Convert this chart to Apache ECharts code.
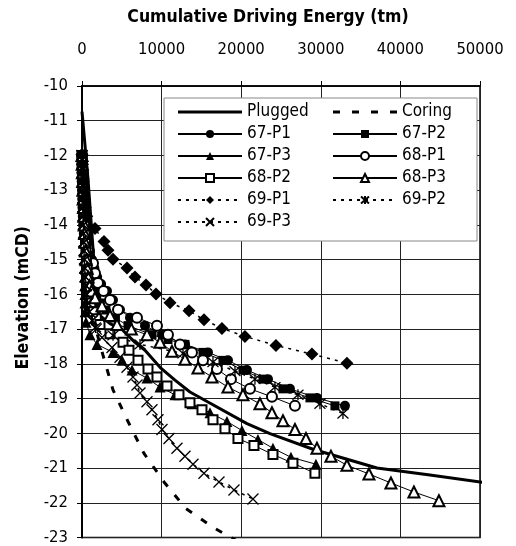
<!DOCTYPE html>
<html>
<head>
<meta charset="UTF-8" />
<title>Cumulative Driving Energy</title>
<script src="https://cdn.jsdelivr.net/npm/echarts@6/dist/echarts.min.js"></script>
<style>
  html, body { margin: 0; padding: 0; background: #fff; }
  #main { width: 516px; height: 546px; }
</style>
</head>
<body>
<div id="main"></div>
<script>
// axis ticks
var xTicks = [0, 10000, 20000, 30000, 40000, 50000];
var yTicks = [-23, -10];

// [cumulative energy (tm), elevation (mCD)]
var plugged = [[0,-10.74],[754,-12.68],[1382,-14.68],[1884,-16.24],[2261,-16.61],[3517,-16.84],[5024,-17.01],[6657,-17.38],[7913,-17.61],[9797,-18.1],[11681,-18.47],[13565,-18.81],[15826,-19.1],[20724,-19.72],[23613,-20.01],[29014,-20.46],[37052,-21.0],[43709,-21.2],[50994,-21.43]];
var coring = [[0,-12.0],[300,-14.0],[700,-15.5],[1500,-16.8],[2638,-17.75],[3894,-18.75],[5778,-19.66],[7787,-20.58],[10299,-21.4],[13062,-22.17],[16705,-22.74],[19342,-23.08]];
var p67_1 = [[0,-12],[50,-12.25],[100,-12.5],[150,-12.75],[200,-13],[250,-13.25],[300,-13.5],[400,-13.75],[500,-14],[650,-14.25],[800,-14.5],[1000,-14.75],[1250,-15],[1550,-15.25],[1900,-15.5],[2400,-15.7],[3140,-15.9],[3894,-16.16],[4773,-16.44],[6029,-16.67],[7913,-16.9],[10048,-17.16],[12937,-17.44],[15826,-17.67],[18338,-17.9],[20724,-18.18],[23362,-18.44],[26125,-18.72],[29516,-18.98],[33033,-19.21]];
var p67_2 = [[0,-12],[50,-12.25],[100,-12.5],[150,-12.75],[200,-13],[250,-13.25],[300,-13.5],[350,-13.75],[450,-14],[550,-14.25],[650,-14.5],[800,-14.75],[950,-15],[1100,-15.25],[1300,-15.5],[1550,-15.75],[1850,-16],[2300,-16.25],[3000,-16.45],[4200,-16.68],[5778,-16.9],[8792,-17.16],[10800,-17.3],[12937,-17.44],[15198,-17.67],[17710,-17.9],[20222,-18.18],[22734,-18.44],[25246,-18.72],[28637,-18.98],[31777,-19.21]];
var p67_3 = [[0,-12],[30,-12.25],[60,-12.5],[90,-12.75],[120,-13],[150,-13.25],[170,-13.5],[190,-13.75],[210,-14],[230,-14.25],[250,-14.5],[270,-14.75],[290,-15],[310,-15.25],[330,-15.5],[350,-15.75],[370,-16],[380,-16.25],[400,-16.5],[500,-16.8],[1005,-17.16],[1884,-17.44],[3894,-17.67],[5024,-17.9],[6280,-18.18],[8164,-18.41],[9797,-18.67],[11681,-18.89],[13816,-19.15],[16077,-19.41],[18212,-19.66],[20096,-19.92],[22106,-20.18],[23990,-20.43],[26250,-20.69],[29390,-20.89]];
var p68_1 = [[0,-12],[30,-12.25],[60,-12.5],[90,-12.75],[120,-13],[150,-13.25],[180,-13.5],[220,-13.75],[260,-14],[350,-14.25],[500,-14.5],[754,-14.68],[1382,-15.1],[1633,-15.39],[2010,-15.67],[2700,-15.9],[3517,-16.16],[4522,-16.44],[6908,-16.67],[9420,-16.9],[10802,-17.16],[12309,-17.44],[13816,-17.67],[15198,-17.9],[16956,-18.15],[18714,-18.44],[21101,-18.72],[23864,-18.95],[26753,-19.21]];
var p68_2 = [[0,-12],[40,-12.25],[80,-12.5],[120,-12.75],[160,-13],[200,-13.25],[240,-13.5],[280,-13.75],[320,-14],[380,-14.25],[440,-14.5],[500,-14.75],[560,-15],[640,-15.25],[720,-15.5],[800,-15.75],[900,-16],[1100,-16.25],[1400,-16.5],[1800,-16.7],[2261,-16.87],[3517,-17.13],[5150,-17.38],[5903,-17.61],[7034,-17.9],[8290,-18.15],[9420,-18.38],[10676,-18.64],[12183,-18.89],[13565,-19.12],[15072,-19.32],[16454,-19.61],[17961,-19.87],[19594,-20.15],[21603,-20.35],[23990,-20.61],[26502,-20.86],[29265,-21.15]];
var p68_3 = [[0,-12],[30,-12.25],[60,-12.5],[90,-12.75],[120,-13],[150,-13.25],[190,-13.5],[230,-13.75],[280,-14],[330,-14.25],[390,-14.5],[460,-14.75],[540,-15],[640,-15.25],[760,-15.5],[950,-15.75],[1200,-15.9],[1633,-16.1],[2512,-16.33],[3517,-16.61],[4396,-16.87],[6200,-17.0],[8164,-17.16],[9797,-17.38],[11304,-17.64],[12937,-17.87],[14570,-18.12],[16328,-18.38],[18338,-18.67],[20222,-18.89],[22357,-19.15],[23864,-19.41],[25246,-19.64],[26753,-19.89],[28134,-20.15],[29516,-20.43],[31274,-20.66],[33284,-20.92],[36047,-21.17],[38810,-21.43],[41699,-21.69],[44839,-21.94]];
var p69_1 = [[0,-11.97],[50,-12.25],[100,-12.5],[150,-12.75],[200,-13],[300,-13.25],[400,-13.5],[600,-13.75],[1633,-14.1],[2763,-14.48],[3265,-14.73],[3894,-14.99],[5652,-15.24],[6657,-15.5],[8038,-15.73],[9294,-15.99],[11053,-16.24],[13440,-16.47],[15324,-16.73],[17584,-16.98],[20473,-17.21],[24367,-17.47],[28888,-17.72],[33284,-17.98]];
var p69_2 = [[0,-12],[20,-12.25],[40,-12.5],[60,-12.75],[80,-13],[100,-13.25],[120,-13.5],[140,-13.75],[170,-14],[200,-14.25],[230,-14.5],[260,-14.75],[300,-15],[350,-15.25],[400,-15.5],[470,-15.75],[550,-16],[700,-16.25],[900,-16.5],[1300,-16.75],[1700,-16.95],[3894,-17.18],[7285,-17.44],[12685,-17.7],[16454,-17.95],[19217,-18.21],[21729,-18.44],[24241,-18.67],[27130,-18.89],[29893,-19.15],[32782,-19.43]];
var p69_3 = [[0,-12],[20,-12.25],[40,-12.5],[60,-12.75],[80,-13],[100,-13.25],[130,-13.5],[160,-13.75],[190,-14],[220,-14.25],[260,-14.5],[300,-14.75],[350,-15],[400,-15.25],[460,-15.5],[530,-15.75],[620,-16],[750,-16.25],[950,-16.5],[1300,-16.75],[1800,-17.0],[2512,-17.24],[3768,-17.53],[4773,-17.81],[5652,-18.1],[6406,-18.38],[6908,-18.61],[7285,-18.84],[8164,-19.09],[8792,-19.32],[9546,-19.61],[10048,-19.89],[10927,-20.15],[11932,-20.43],[12937,-20.66],[13942,-20.89],[15323,-21.15],[17207,-21.4],[19091,-21.63],[21478,-21.89]];

var legendLeft = ['Plugged', '67-P1', '67-P3', '68-P2', '69-P1', '69-P3'];
var legendRight = ['Coring', '67-P2', '68-P1', '68-P3', '69-P2'];

var FONT = 'DejaVu Sans Condensed, DejaVu Sans, sans-serif';
var X_PATH = 'path://M0,0L10,10M10,0L0,10';
var STAR_PATH = 'path://M5,0L5,10M0.5,0.5L9.5,9.5M9.5,0.5L0.5,9.5';
// legend icons for the two marker-less lines (bbox padded to 64x10)
var THICK_ICON = 'path://M0,0M64,10M0,3.5L64,3.5L64,6.5L0,6.5Z';
var DASH_ICON = 'path://M0,0M64,10M0,3.5L7,3.5L7,6.5L0,6.5ZM19,3.5L26,3.5L26,6.5L19,6.5ZM38,3.5L45,3.5L45,6.5L38,6.5ZM57,3.5L64,3.5L64,6.5L57,6.5Z';

function mk(name, data, symbol, size, dotted, border) {
  return {
    name: name,
    type: 'line',
    data: data,
    symbol: symbol,
    symbolSize: size,
    showSymbol: true,
    color: '#000',
    itemStyle: { color: '#000', borderColor: '#000', borderWidth: border || 0 },
    lineStyle: { color: '#000', width: dotted ? 1.5 : 1, type: dotted ? [3, 5] : 'solid' },
    emphasis: { disabled: true },
    animation: false
  };
}

var series = [
  {
    name: 'Plugged', type: 'line', data: plugged, showSymbol: false, symbol: 'none',
    color: '#000', lineStyle: { color: '#000', width: 3 }, clip: false, animation: false
  },
  {
    name: 'Coring', type: 'line', data: coring, showSymbol: false, symbol: 'none',
    color: '#000', lineStyle: { color: '#000', width: 3, type: [7, 11] }, animation: false
  },
  mk('67-P1', p67_1, 'circle', 10, false),
  mk('67-P2', p67_2, 'rect', 9, false),
  mk('67-P3', p67_3, 'triangle', 11, false),
  mk('68-P1', p68_1, 'emptyCircle', 10, false),
  mk('68-P2', p68_2, 'emptyRect', 9, false),
  mk('68-P3', p68_3, 'emptyTriangle', 11, false),
  mk('69-P1', p69_1, 'diamond', 13, true),
  mk('69-P2', p69_2, STAR_PATH, 11, true, 1.3),
  mk('69-P3', p69_3, X_PATH, 11, true, 1.3)
];

function legendItems(names) {
  return names.map(function (n) {
    if (n === 'Plugged') return { name: n, icon: THICK_ICON };
    if (n === 'Coring') return { name: n, icon: DASH_ICON };
    return { name: n };
  });
}

var legendBase = {
  orient: 'vertical',
  itemWidth: 64,
  itemHeight: 10,
  itemGap: 4,
  selectedMode: false,
  textStyle: { color: '#000', fontSize: 17, fontFamily: FONT, lineHeight: 18, width: 70 }
};

var chart = echarts.init(document.getElementById('main'));
chart.setOption({
  backgroundColor: '#fff',
  animation: false,
  grid: { left: 82, right: 36, top: 86, bottom: 4, show: true, borderColor: '#000', borderWidth: 1.5 },
  legend: [
    Object.assign({}, legendBase, {
      data: legendItems(legendLeft), left: 164, top: 98, padding: [5, 160, 10, 13],
      backgroundColor: '#fff', borderColor: '#888', borderWidth: 1
    }),
    Object.assign({}, legendBase, { data: legendItems(legendRight), left: 332, top: 103, padding: 0, z: 6 })
  ],
  xAxis: {
    type: 'value', position: 'top',
    min: xTicks[0], max: xTicks[xTicks.length - 1], interval: 10000,
    name: 'Cumulative Driving Energy (tm)', nameLocation: 'middle', nameGap: 60,
    nameTextStyle: { color: '#000', fontSize: 17.5, fontWeight: 'bold', fontFamily: FONT, padding: [0, 26, 0, 0] },
    axisLine: { show: true, lineStyle: { color: '#000', width: 1.5 } },
    axisTick: { show: true, inside: false, length: 5, lineStyle: { color: '#000' } },
    axisLabel: { color: '#000', fontSize: 16.5, fontFamily: FONT, margin: 28, formatter: function (v) { return String(v); } },
    splitLine: { show: true, lineStyle: { color: '#222', width: 1 } }
  },
  yAxis: {
    type: 'value',
    min: yTicks[0], max: yTicks[1], interval: 1,
    name: 'Elevation (mCD)', nameLocation: 'middle', nameGap: 50, nameRotate: 90,
    nameTextStyle: { color: '#000', fontSize: 17.5, fontWeight: 'bold', fontFamily: FONT, padding: [0, 0, 0, 28] },
    axisLine: { show: true, onZero: false, lineStyle: { color: '#000', width: 2 } },
    axisTick: { show: true, inside: false, length: 5, lineStyle: { color: '#000' } },
    axisLabel: { color: '#000', fontSize: 16.5, fontFamily: FONT, margin: 14 },
    splitLine: { show: true, lineStyle: { color: '#222', width: 1 } }
  },
  series: series
});
</script>
</body>
</html>
